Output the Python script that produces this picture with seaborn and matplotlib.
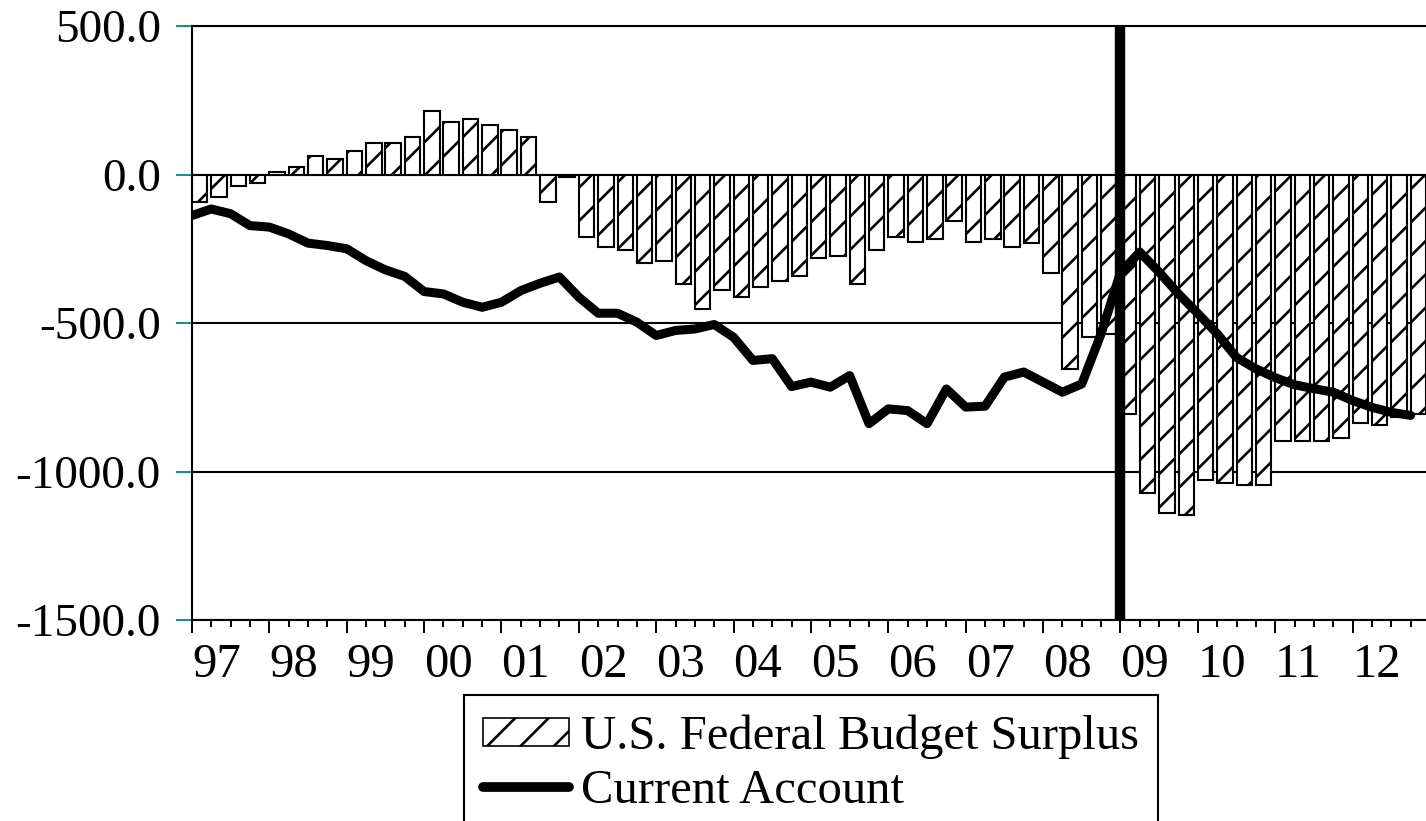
import numpy as np
import pandas as pd
import matplotlib
matplotlib.use("Agg")
import matplotlib.pyplot as plt
import seaborn as sns
from matplotlib.patches import Patch
from matplotlib.lines import Line2D
from matplotlib.ticker import FixedLocator, FormatStrFormatter

# =========================================================
#   DATA (quarterly, billions of dollars)
# =========================================================
years = list(range(1997, 2013))
year_labels = [f"{y % 100:02d}" for y in years]
quarters = [f"{y}Q{q}" for y in years for q in range(1, 5)]

budget_surplus = [
    -93, -76, -39, -29,          # 97
    8, 27, 63, 52,               # 98
    79, 105, 105, 125,           # 99
    214, 177, 187, 168,          # 00
    150, 125, -93, -8,           # 01
    -211, -245, -253, -299,      # 02
    -290, -370, -452, -388,      # 03
    -413, -379, -360, -342,      # 04
    -281, -273, -370, -253,      # 05
    -209, -228, -217, -155,      # 06
    -226, -217, -245, -231,      # 07
    -332, -654, -548, -536,      # 08
    -808, -1074, -1141, -1148,   # 09
    -1030, -1040, -1047, -1047,  # 10
    -896, -896, -896, -886,      # 11
    -835, -845, -818, -805,      # 12
]

current_account = [
    -138, -116, -132, -172,
    -177, -200, -231, -239,
    -250, -290, -321, -343,
    -394, -402, -430, -447,
    -430, -391, -366, -345,
    -413, -467, -467, -497,
    -542, -525, -520, -505,
    -548, -626, -620, -714,
    -699, -716, -677, -839,
    -789, -795, -839, -722,
    -783, -780, -682, -665,
    -699, -733, -705, -536,
    -330, -261, -329, -402,
    -468, -536, -616, -654,
    -684, -708, -721, -733,
    -761, -784, -801, -811,
]

break_quarter = "2009Q1"

y_ticks = [500, 0, -500, -1000, -1500]

df = pd.DataFrame({
    "pos": np.arange(len(quarters)),
    "quarter": quarters,
    "surplus": budget_surplus,
    "current": current_account,
})

# =========================================================
#   STYLE
# =========================================================
sns.set_theme(style="white")
plt.rcParams["font.family"] = ["Liberation Serif", "DejaVu Serif"]
plt.rcParams["axes.unicode_minus"] = False
plt.rcParams["hatch.linewidth"] = 1.9
plt.rcParams["hatch.color"] = "black"
plt.rcParams["text.color"] = "black"
plt.rcParams["xtick.color"] = "black"
plt.rcParams["ytick.color"] = "black"

fig = plt.figure(figsize=(14.26, 8.21), dpi=100)
ax = fig.add_axes([0.1346, 0.2448, 0.8682, 0.7235])

bar_w = 0.8
edge = bar_w / 2

# =========================================================
#   BARS + LINE
# =========================================================
sns.barplot(
    data=df, x="pos", y="surplus",
    color="white", edgecolor="black", linewidth=1.5,
    hatch="/", width=bar_w, saturation=1, errorbar=None,
    ax=ax, zorder=2
)

sns.lineplot(
    x=df["pos"] - edge, y=df["current"],
    color="black", linewidth=6.5, ax=ax, zorder=3
)

ax.axvline(quarters.index(break_quarter) - edge, color="black", lw=7.5, zorder=5)

# =========================================================
#   AXES
# =========================================================
ax.set_xlim(-edge, len(quarters) - edge)
ax.set_ylim(-1500, 500)
ax.yaxis.set_major_locator(FixedLocator(y_ticks))
ax.yaxis.set_major_formatter(FormatStrFormatter("%.1f"))
ax.grid(axis="y", color="black", lw=1.5)
ax.grid(axis="x", visible=False)
ax.set_axisbelow(True)

ax.set_xticks(df["pos"][::4] - edge, labels=year_labels)
ax.set_xticks(df["pos"] - edge, minor=True)
for lab in ax.get_xticklabels():
    lab.set_ha("left")

ax.tick_params(axis="x", which="major", length=9.4, width=1.4, color="black",
               labelcolor="black", pad=7, labelsize=35, direction="out", bottom=True)
ax.tick_params(axis="x", which="minor", length=5, width=1.4, color="black",
               direction="out", bottom=True)
ax.tick_params(axis="y", length=11.5, width=1.4, color="#1a8a8a", labelcolor="black",
               pad=10.8, labelsize=34, direction="out", left=True)
ax.set_xlabel("")
ax.set_ylabel("")

for s in ax.spines.values():
    s.set_color("black")
    s.set_linewidth(1.5)

# =========================================================
#   LEGEND
# =========================================================
handles = [
    Patch(facecolor="white", edgecolor="black", hatch="/", lw=1.2,
          label="U.S. Federal Budget Surplus"),
    Line2D([], [], color="black", lw=7, label="Current Account"),
]
leg = fig.legend(
    handles=handles, loc="upper left",
    bbox_to_anchor=(464 / 1426, 1 - 695 / 821),
    frameon=True, fancybox=False, edgecolor="black", framealpha=1,
    fontsize=35, handlelength=1.75, handleheight=0.52, handletextpad=0.25,
    borderpad=0.4, labelspacing=0.2, borderaxespad=0
)
leg.get_frame().set_linewidth(1.5)

fig.savefig("out.png", dpi=100)
